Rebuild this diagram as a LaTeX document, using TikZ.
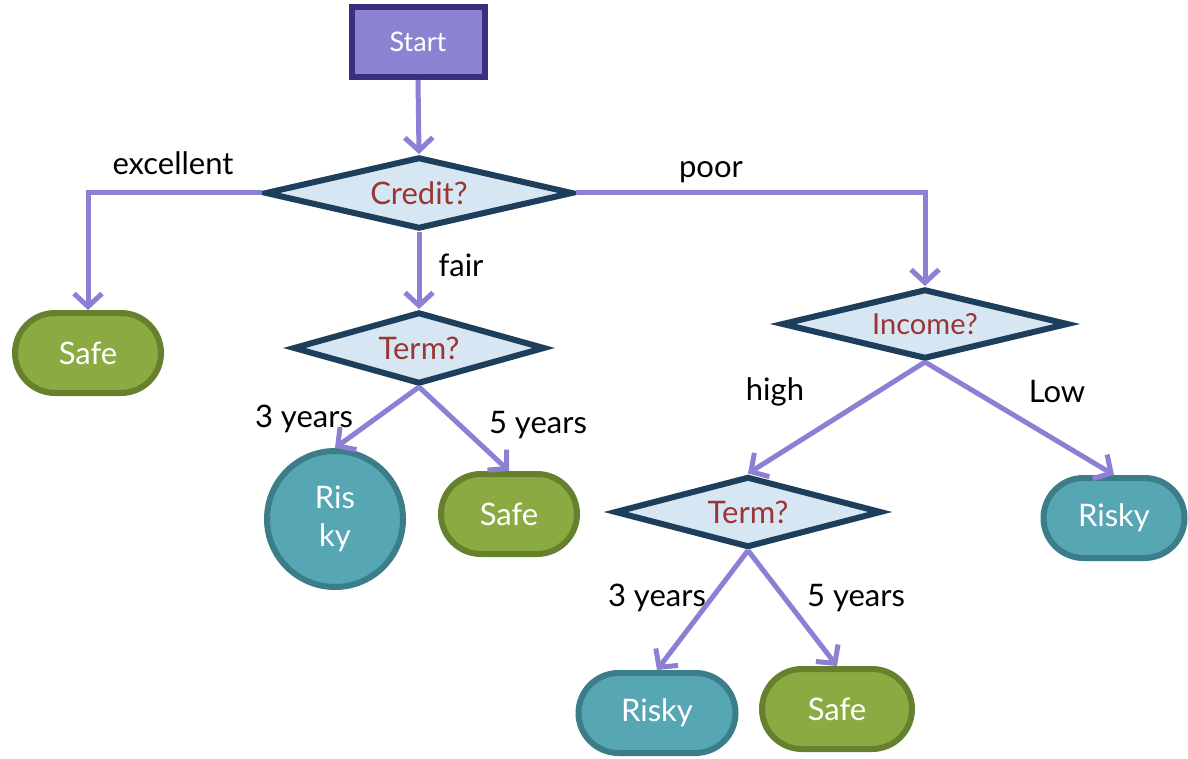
\documentclass[tikz,border=0pt]{standalone}
\usepackage{fontspec}
\setmainfont{Lato}
\usetikzlibrary{shapes.geometric,shapes.misc,arrows.meta}
\definecolor{startfill}{HTML}{8B82D2}
\definecolor{startdraw}{HTML}{392F7C}
\definecolor{dfill}{HTML}{D6E6F3}
\definecolor{ddraw}{HTML}{1D3F5C}
\definecolor{dtext}{HTML}{9B3535}
\definecolor{gfill}{HTML}{8BAA41}
\definecolor{gdraw}{HTML}{66812E}
\definecolor{bfill}{HTML}{57A6B3}
\definecolor{bdraw}{HTML}{3B7D88}
\definecolor{arr}{HTML}{8B80D4}
\tikzset{
  startbox/.style={draw=startdraw,fill=startfill,line width=6pt,text=white,minimum width=133pt,minimum height=70pt,inner sep=0pt,font=\fontsize{27}{30}\selectfont},
  decision/.style={diamond,shape aspect=4.2,draw=ddraw,fill=dfill,line width=6pt,text=dtext,inner sep=0pt,font=\fontsize{31}{34}\selectfont},
  safebox/.style={rounded rectangle,draw=gdraw,fill=gfill,line width=6pt,text=white,inner sep=0pt,minimum height=80pt,font=\fontsize{31}{34}\selectfont},
  riskybox/.style={rounded rectangle,draw=bdraw,fill=bfill,line width=6pt,text=white,inner sep=0pt,minimum height=80pt,font=\fontsize{31}{34}\selectfont},
  conn/.style={draw=arr,line width=5pt,-{Straight Barb[length=13pt,width=28pt,line width=5pt]}},
  lab/.style={font=\fontsize{31}{34}\selectfont,text=black,inner sep=0pt}
}
\begin{document}
\begin{tikzpicture}[x=1pt,y=-1pt]
\useasboundingbox (0,0) rectangle (1188,759);
\node[startbox] (start) at (418,42) {Start};
\node[decision,minimum width=308pt,minimum height=72pt] (credit) at (419,193) {Credit?};
\node[safebox,minimum width=146pt] (safe1) at (88,353) {Safe};
\node[decision,minimum width=252pt,minimum height=72pt] (term1) at (419,348) {Term?};
\node[circle,draw=bdraw,fill=bfill,line width=6pt,text=white,minimum size=136pt,inner sep=0pt,align=center,font=\fontsize{31}{38}\selectfont] (risky1) at (335,519) {Ris\\ky};
\node[safebox,minimum width=136pt] (safe2) at (509,514) {Safe};
\node[decision,minimum width=287pt,minimum height=70pt,font=\fontsize{29}{32}\selectfont] (income) at (925,324) {Income?};
\node[decision,minimum width=267pt,minimum height=71pt] (term2) at (748,512) {Term?};
\node[riskybox,minimum width=141pt] (risky2) at (1114,518) {Risky};
\node[riskybox,minimum width=157pt] (risky3) at (657,713) {Risky};
\node[safebox,minimum width=150pt] (safe3) at (837,709) {Safe};

\draw[conn] (start.south) -- (credit.north);
\draw[conn] (credit.west) -| (safe1.north);
\draw[conn] (credit.south) -- (term1.north);
\draw[conn] (credit.east) -| (income.north);
\draw[conn] (term1.south) -- (risky1.north);
\draw[conn] (term1.south) -- (safe2.north);
\draw[conn] (income.south) -- (term2.north);
\draw[conn] (income.south) -- (risky2.north);
\draw[conn] (term2.south) -- (risky3.north);
\draw[conn] (term2.south) -- (safe3.north);

\node[lab] (l1) at (173,163) {excellent};
\node[lab] (l2) at (461,265) {fair};
\node[lab] (l3) at (711,172) {poor};
\node[lab] (l4) at (304,419) {3 years};
\node[lab] (l5) at (538,425) {5 years};
\node[lab] (l6) at (775,392) {high};
\node[lab] (l7) at (1057,392) {Low};
\node[lab] (l8) at (657,598) {3 years};
\node[lab] (l9) at (856,598) {5 years};
\end{tikzpicture}
\end{document}
